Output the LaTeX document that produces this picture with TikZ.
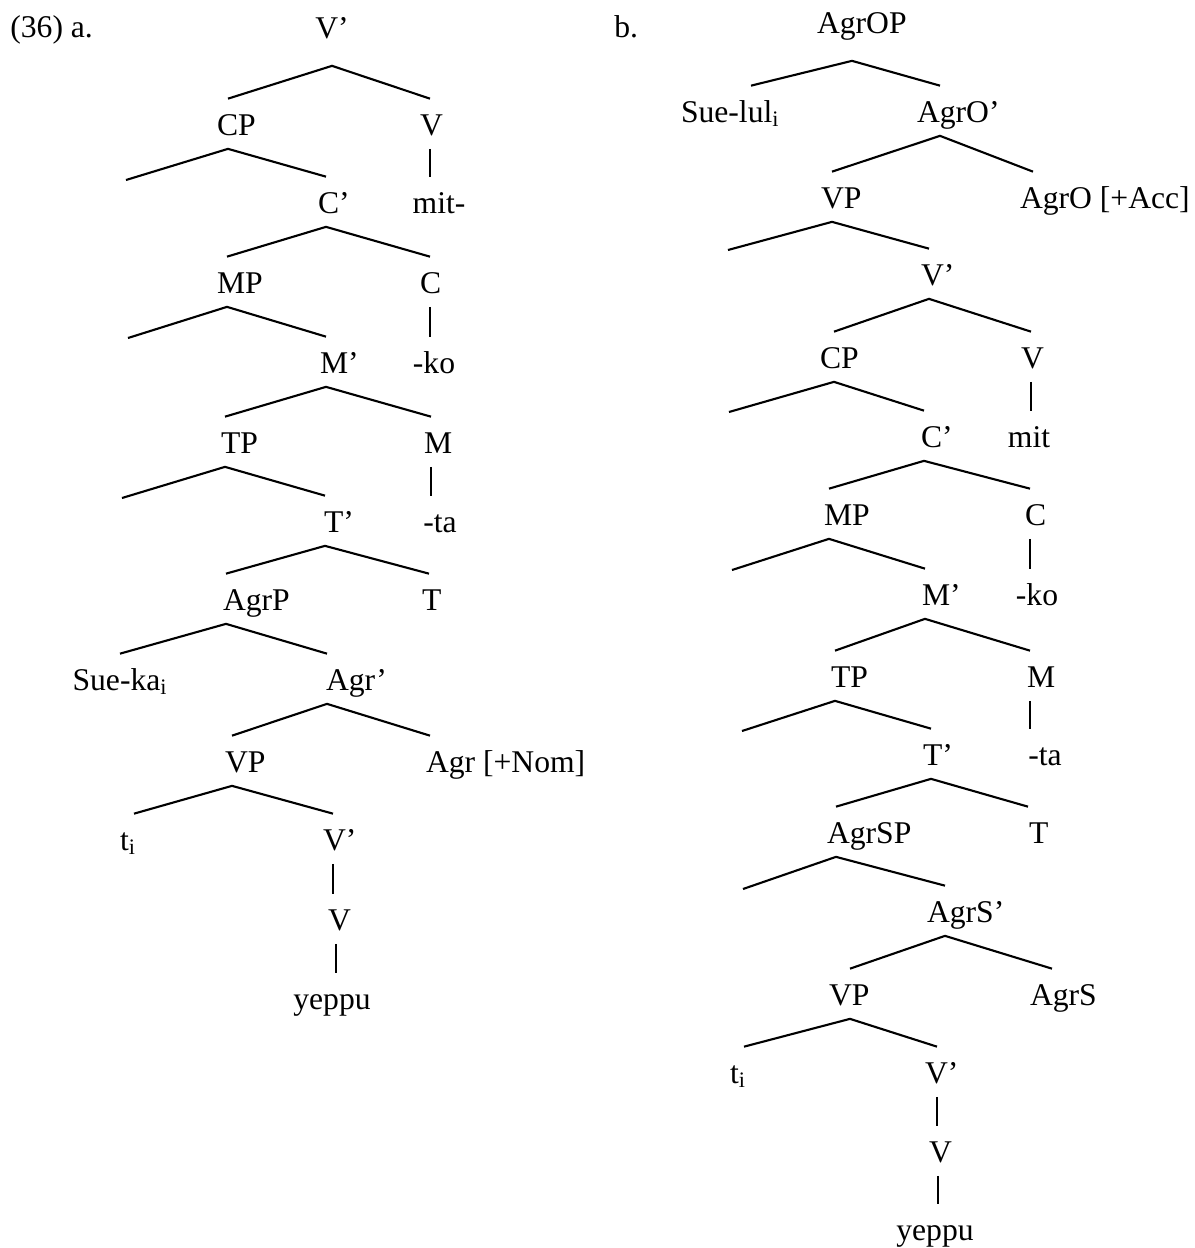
\documentclass[tikz,border=0pt]{standalone}
\usepackage{fontspec}
\setmainfont{Liberation Serif}
\newlength{\pxu}
\setlength{\pxu}{0.02cm}
\newcommand{\shiftlab}[2]{\makebox[0pt][l]{\hspace*{#1\pxu}#2}}
\tikzset{
  catlab/.style={anchor=base, inner sep=0pt, text height=0.72cm, text depth=0.27cm,
                 font=\fontsize{18}{21}\selectfont},
  rootcat/.style={catlab, text depth=0.55cm},
  extag/.style={anchor=base west, inner sep=0pt, font=\fontsize{18}{21}\selectfont},
  branch/.style={line width=1.2pt, line join=miter},
  stem/.style={line width=0.8pt},
}

\begin{document}
\begin{tikzpicture}[x=0.02cm, y=-0.02cm]
  \useasboundingbox (0,0) rectangle (1195,1248);
  \node[extag] (exa) at (10,37)  {(36) a.};
  \node[extag] (exb) at (614,37) {b.};

  % (36) a.
  \node[rootcat] (avb)   at (332,38)   {V'};
  \node[catlab]  (acp)   at (228,135)  {\shiftlab{-11}{CP}};
  \node[catlab]  (av)    at (430,135)  {\shiftlab{-10}{V}};
  \coordinate    (acpL)  at (126,180);
  \node[catlab]  (acb)   at (326,213)  {\shiftlab{-8}{C'}};
  \node[catlab]  (amit)  at (439,213)  {mit-};
  \node[catlab]  (amp)   at (227,293)  {\shiftlab{-10}{MP}};
  \node[catlab]  (ac)    at (430,293)  {\shiftlab{-10}{C}};
  \coordinate    (ampL)  at (128,338);
  \node[catlab]  (amb)   at (326,373)  {\shiftlab{-6}{M'}};
  \node[catlab]  (ako)   at (434,373)  {-ko};
  \node[catlab]  (atp)   at (225,453)  {\shiftlab{-4}{TP}};
  \node[catlab]  (am)    at (431,453)  {\shiftlab{-7}{M}};
  \coordinate    (atpL)  at (122,498);
  \node[catlab]  (atb)   at (325,532)  {\shiftlab{-1}{T'}};
  \node[catlab]  (ata)   at (440,532)  {-ta};
  \node[catlab]  (aagrp) at (226,610)  {\shiftlab{-3}{AgrP}};
  \node[catlab]  (aT)    at (429,610)  {\shiftlab{-7}{T}};
  \node[catlab]  (asue)  at (120,690)  {Sue-ka\textsubscript{i}};
  \node[catlab]  (aagrb) at (327,690)  {\shiftlab{-1}{Agr'}};
  \node[catlab]  (avp)   at (232,772)  {\shiftlab{-7}{VP}};
  \node[catlab]  (anom)  at (430,772)  {\shiftlab{-4}{Agr [+Nom]}};
  \node[catlab]  (ati)   at (134,850)  {\shiftlab{-14}{t\textsubscript{i}}};
  \node[catlab]  (avb2)  at (333,850)  {\shiftlab{-10}{V'}};
  \node[catlab]  (av2)   at (336,930)  {\shiftlab{-8}{V}};
  \node[catlab]  (ayep)  at (332,1009) {yeppu};

  \draw[branch] (acp.north) -- (avb.south) -- (av.north);
  \draw[branch] (acpL) -- (acp.south) -- (acb.north);
  \draw[stem]   (av.south) -- (av.south |- amit.north);
  \draw[branch] (amp.north) -- (acb.south) -- (ac.north);
  \draw[stem]   (ac.south) -- (ac.south |- ako.north);
  \draw[branch] (ampL) -- (amp.south) -- (amb.north);
  \draw[branch] (atp.north) -- (amb.south) -- (am.north);
  \draw[stem]   (am.south) -- (am.south |- ata.north);
  \draw[branch] (atpL) -- (atp.south) -- (atb.north);
  \draw[branch] (aagrp.north) -- (atb.south) -- (aT.north);
  \draw[branch] (asue.north) -- (aagrp.south) -- (aagrb.north);
  \draw[branch] (avp.north) -- (aagrb.south) -- (anom.north);
  \draw[branch] (ati.north) -- (avp.south) -- (avb2.north);
  \draw[stem]   (avb2.south) -- (avb2.south |- av2.north);
  \draw[stem]   (av2.south) -- (av2.south |- ayep.north);

  % b.
  \node[rootcat] (bagrop) at (852,33)   {\shiftlab{-35}{AgrOP}};
  \node[catlab]  (bsue)   at (751,122)  {\shiftlab{-70}{Sue-lul\textsubscript{i}}};
  \node[catlab]  (bagrob) at (940,122)  {\shiftlab{-23}{AgrO'}};
  \node[catlab]  (bvp)    at (832,208)  {\shiftlab{-11}{VP}};
  \node[catlab]  (bacc)   at (1033,208) {\shiftlab{-13}{AgrO [+Acc]}};
  \coordinate    (bvpL)   at (728,250);
  \node[catlab]  (bvb)    at (929,285)  {\shiftlab{-8}{V'}};
  \node[catlab]  (bcp)    at (834,368)  {\shiftlab{-14}{CP}};
  \node[catlab]  (bv)     at (1031,368) {\shiftlab{-10}{V}};
  \coordinate    (bcpL)   at (729,412);
  \node[catlab]  (bcb)    at (924,447)  {\shiftlab{-3}{C'}};
  \node[catlab]  (bmit)   at (1029,447) {mit};
  \node[catlab]  (bmp)    at (829,525)  {\shiftlab{-5}{MP}};
  \node[catlab]  (bc)     at (1030,525) {\shiftlab{-5}{C}};
  \coordinate    (bmpL)   at (732,570);
  \node[catlab]  (bmb)    at (925,605)  {\shiftlab{-3}{M'}};
  \node[catlab]  (bko)    at (1037,605) {-ko};
  \node[catlab]  (btp)    at (835,687)  {\shiftlab{-4}{TP}};
  \node[catlab]  (bm)     at (1030,687) {\shiftlab{-3}{M}};
  \coordinate    (btpL)   at (742,731);
  \node[catlab]  (btb)    at (931,765)  {\shiftlab{-8}{T'}};
  \node[catlab]  (bta)    at (1045,765) {-ta};
  \node[catlab]  (bagrsp) at (836,843)  {\shiftlab{-9}{AgrSP}};
  \node[catlab]  (bT)     at (1028,843) {\shiftlab{1}{T}};
  \coordinate    (bagrspL) at (743,889);
  \node[catlab]  (bagrsb) at (945,922)  {\shiftlab{-18}{AgrS'}};
  \node[catlab]  (bvp2)   at (850,1005) {\shiftlab{-21}{VP}};
  \node[catlab]  (bagrs)  at (1052,1005) {\shiftlab{-22}{AgrS}};
  \node[catlab]  (bti)    at (744,1083) {\shiftlab{-14}{t\textsubscript{i}}};
  \node[catlab]  (bvb2)   at (937,1083) {\shiftlab{-12}{V'}};
  \node[catlab]  (bv2)    at (938,1162) {\shiftlab{-9}{V}};
  \node[catlab]  (byep)   at (935,1240) {yeppu};

  \draw[branch] (bsue.north) -- (bagrop.south) -- (bagrob.north);
  \draw[branch] (bvp.north) -- (bagrob.south) -- (bacc.north);
  \draw[branch] (bvpL) -- (bvp.south) -- (bvb.north);
  \draw[branch] (bcp.north) -- (bvb.south) -- (bv.north);
  \draw[stem]   (bv.south) -- (bv.south |- bmit.north);
  \draw[branch] (bcpL) -- (bcp.south) -- (bcb.north);
  \draw[branch] (bmp.north) -- (bcb.south) -- (bc.north);
  \draw[stem]   (bc.south) -- (bc.south |- bko.north);
  \draw[branch] (bmpL) -- (bmp.south) -- (bmb.north);
  \draw[branch] (btp.north) -- (bmb.south) -- (bm.north);
  \draw[stem]   (bm.south) -- (bm.south |- bta.north);
  \draw[branch] (btpL) -- (btp.south) -- (btb.north);
  \draw[branch] (bagrsp.north) -- (btb.south) -- (bT.north);
  \draw[branch] (bagrspL) -- (bagrsp.south) -- (bagrsb.north);
  \draw[branch] (bvp2.north) -- (bagrsb.south) -- (bagrs.north);
  \draw[branch] (bti.north) -- (bvp2.south) -- (bvb2.north);
  \draw[stem]   (bvb2.south) -- (bvb2.south |- bv2.north);
  \draw[stem]   (bv2.south) -- (bv2.south |- byep.north);
\end{tikzpicture}
\end{document}
